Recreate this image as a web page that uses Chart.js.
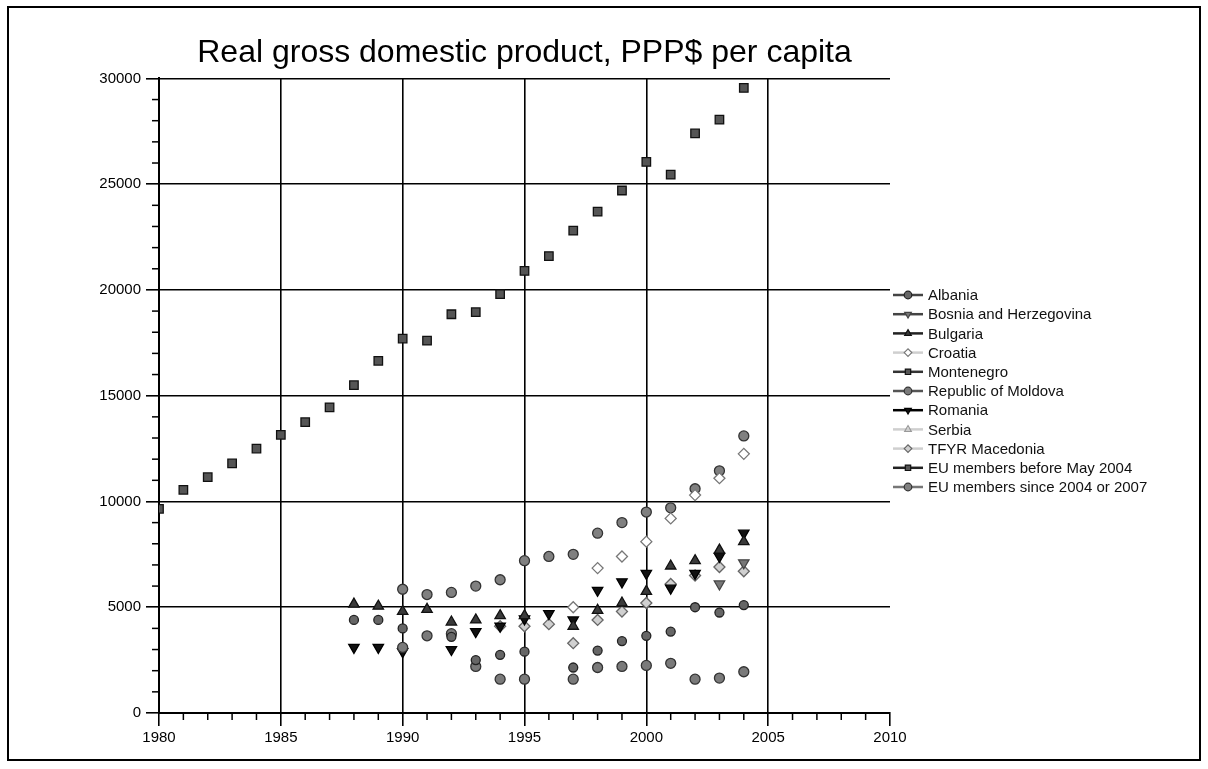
<!DOCTYPE html>
<html>
<script src="https://cdn.jsdelivr.net/npm/chart.js@4/dist/chart.umd.min.js"></script>
<body style="margin:0;background:#fff;">
<canvas id="gdpChart" width="1208" height="769"></canvas>

<script>
// years for the long EU-15 series and for the transition countries
var yearsAll = [1980,1981,1982,1983,1984,1985,1986,1987,1988,1989,1990,1991,1992,1993,1994,1995,1996,1997,1998,1999,2000,2001,2002,2003,2004];
var years = [1988,1989,1990,1991,1992,1993,1994,1995,1996,1997,1998,1999,2000,2001,2002,2003,2004];

var euBefore  = [9650,10550,11150,11800,12500,13150,13750,14450,15500,16650,17700,17600,18850,18950,19800,20900,21600,22800,23700,24700,26050,25450,27400,28050,29550];
var euSince   = [null,null,5850,5600,5700,6000,6300,7200,7400,7500,8500,9000,9500,9700,10600,11450,13100];
var albania   = [4400,4400,4000,null,3600,2500,2750,2900,null,2150,2950,3400,3650,3850,5000,4750,5100];
var moldova   = [null,null,3100,3650,3750,2200,1600,1600,null,1600,2150,2200,2250,2350,1600,1650,1950];
var bulgaria  = [5150,5050,4800,4900,4300,4400,4600,4600,null,4100,4850,5200,5750,6950,7200,7700,8100];
var romania   = [3100,3100,2900,null,3000,3850,4100,4450,4700,4400,5800,6200,6600,5900,6600,7400,8500];
var bosnia    = [null,null,null,null,null,null,null,null,null,null,null,null,null,null,null,6100,7100];
var croatia   = [null,null,null,null,null,null,null,null,null,5000,6850,7400,8100,9200,10300,11100,12250];
var macedonia = [null,null,null,null,null,null,4100,4100,4200,3300,4400,4800,5200,6100,6500,6900,6700];
var serbia    = [];
var montenegro = [];

var xTicks = [1980,1985,1990,1995,2000,2005,2010];
var yTicks = [0,5000,10000,15000,20000,25000,30000];

function pts(xs, ys) {
  var out = [];
  ys.forEach(function(v, i) { if (v !== null) out.push({x: xs[i], y: v}); });
  return out;
}

function series(label, xs, ys, style, bg, border, radius, rot, legendLine) {
  return {
    label: label, data: pts(xs, ys), showLine: false,
    pointStyle: style, pointRotation: rot || 0, pointRadius: radius,
    pointBackgroundColor: bg, pointBorderColor: border, pointBorderWidth: 1.3,
    legendLine: legendLine
  };
}

var datasets = [
  series('Albania', years, albania, 'circle', '#666', '#222', 4.5, 0, '#444'),
  series('Bosnia and Herzegovina', years, bosnia, 'triangle', '#777', '#444', 6, 180, '#444'),
  series('Bulgaria', years, bulgaria, 'triangle', '#3a3a3a', '#111', 6, 0, '#222'),
  series('Croatia', years, croatia, 'rectRot', '#fff', '#777', 5.5, 0, '#cfcfcf'),
  series('Montenegro', years, montenegro, 'rect', '#555', '#111', 5.5, 0, '#333'),
  series('Republic of Moldova', years, moldova, 'circle', '#7a7a7a', '#333', 5, 0, '#555'),
  series('Romania', years, romania, 'triangle', '#111', '#000', 6, 180, '#000'),
  series('Serbia', years, serbia, 'triangle', 'rgba(0,0,0,0)', '#999', 4, 0, '#cfcfcf'),
  series('TFYR Macedonia', years, macedonia, 'rectRot', '#d0d0d0', '#666', 5.5, 0, '#cfcfcf'),
  series('EU members before May 2004', yearsAll, euBefore, 'rect', '#555', '#111', 6, 0, '#222'),
  series('EU members since 2004 or 2007', years, euSince, 'circle', '#808080', '#333', 5, 0, '#777')
];

var extras = {
  id: 'extras',
  beforeDraw: function(chart) {
    var c = chart.ctx;
    c.save();
    c.fillStyle = '#fff';
    c.fillRect(0, 0, chart.width, chart.height);
    c.strokeStyle = '#000';
    c.lineWidth = 2;
    c.strokeRect(8, 7, 1192, 753);
    c.restore();
  },
  afterDraw: function(chart) {
    var c = chart.ctx, xs = chart.scales.x, ys = chart.scales.y, a = chart.chartArea;
    c.save();
    // minor ticks
    c.strokeStyle = '#000';
    c.lineWidth = 1.5;
    for (var yr = 1980; yr <= 2010; yr++) {
      if (yr % 5 === 0) continue;
      var px = xs.getPixelForValue(yr);
      c.beginPath(); c.moveTo(px, a.bottom); c.lineTo(px, a.bottom + 7); c.stroke();
    }
    for (var v = 0; v <= 30000; v += 1000) {
      if (v % 5000 === 0) continue;
      var py = ys.getPixelForValue(v);
      c.beginPath(); c.moveTo(a.left - 7, py); c.lineTo(a.left, py); c.stroke();
    }
    // legend
    var lx = a.right + 3, ly = 295, step = 19.2;
    c.font = '15px "Liberation Sans", Arial, sans-serif';
    c.textBaseline = 'middle';
    chart.data.datasets.forEach(function(ds, i) {
      var y = ly + i * step;
      c.strokeStyle = ds.legendLine;
      c.lineWidth = 2.5;
      c.beginPath(); c.moveTo(lx, y); c.lineTo(lx + 30, y); c.stroke();
      c.fillStyle = ds.pointBackgroundColor;
      c.strokeStyle = ds.pointBorderColor;
      c.lineWidth = 1.2;
      Chart.helpers.drawPoint(c, {pointStyle: ds.pointStyle, rotation: ds.pointRotation, radius: 3.8, borderWidth: 1.2}, lx + 15, y);
      c.fillStyle = '#111';
      c.fillText(ds.label, lx + 35, y + 1);
    });
    c.restore();
  }
};

new Chart('gdpChart', {
  type: 'line',
  data: { datasets: datasets },
  options: {
    responsive: false,
    animation: false,
    layout: { padding: { left: 20, right: 318, top: 0, bottom: 18 } },
    plugins: {
      legend: { display: false },
      tooltip: { enabled: false },
      title: {
        display: true, fullSize: false,
        text: 'Real gross domestic product, PPP$ per capita',
        color: '#000',
        font: { family: '"Liberation Sans", Arial, sans-serif', size: 32, weight: 'normal' },
        padding: { top: 34, bottom: 6 }
      }
    },
    scales: {
      x: {
        type: 'linear', min: 1980, max: 2010,
        afterBuildTicks: function(s) { s.ticks = xTicks.map(function(v) { return {value: v}; }); },
        afterFit: function(s) { s.height = 38; },
        ticks: { color: '#000', padding: 3, font: { family: '"Liberation Sans", Arial, sans-serif', size: 15 }, callback: function(v) { return String(v); } },
        grid: {
          color: function(ctx) { return (ctx.tick && (ctx.tick.value === 2010 || ctx.tick.value === 1980)) ? 'rgba(0,0,0,0)' : '#000'; },
          tickColor: '#000', lineWidth: 1.6, tickLength: 13
        },
        border: { color: '#000', width: 2 }
      },
      y: {
        min: 0, max: 30000,
        afterBuildTicks: function(s) { s.ticks = yTicks.map(function(v) { return {value: v}; }); },
        afterFit: function(s) { s.width = 139; },
        ticks: { color: '#000', padding: 5, font: { family: '"Liberation Sans", Arial, sans-serif', size: 15 }, callback: function(v) { return String(v); } },
        grid: {
          color: function(ctx) { return (ctx.tick && ctx.tick.value === 0) ? 'rgba(0,0,0,0)' : '#000'; },
          tickColor: '#000', lineWidth: 1.6, tickLength: 13
        },
        border: { color: '#000', width: 2 }
      }
    }
  },
  plugins: [extras]
});
</script>
</body>
</html>
